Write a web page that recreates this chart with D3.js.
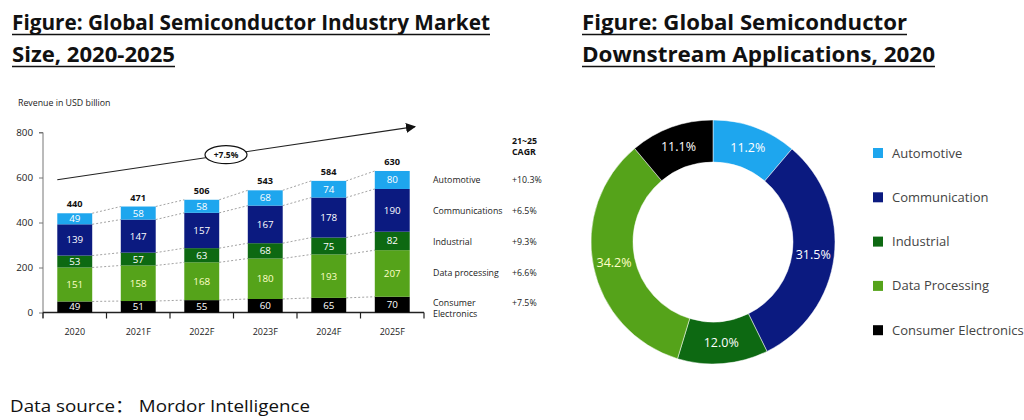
<!DOCTYPE html>
<html><head><meta charset="utf-8">
<script src="https://cdn.jsdelivr.net/npm/d3@7"></script>
<style>
html,body{margin:0;padding:0;background:#fff;}
svg{display:block;}
</style></head>
<body>
<svg id="c" width="1024" height="420"></svg>
<script>
// ---- Data ----
const years = ["2020","2021F","2022F","2023F","2024F","2025F"];
const segments = ["Consumer Electronics","Data processing","Industrial","Communications","Automotive"];
const consumer = [49,51,55,60,65,70];
const dataProc = [151,158,168,180,193,207];
const industrial = [53,57,63,68,75,82];
const communications = [139,147,157,167,178,190];
const automotive = [49,58,58,68,74,80];
const totals = [440,471,506,543,584,630];
const cagrLabels = ["Automotive","Communications","Industrial","Data processing","Consumer|Electronics"];
const cagrValues = ["+10.3%","+6.5%","+9.3%","+6.6%","+7.5%"];
const yTicks = [0,200,400,600,800];
const overallCagr = "+7.5%";

const pieCats = ["Automotive","Communication","Industrial","Data Processing","Consumer Electronics"];
const pieValues = [11.2,31.5,12.0,34.2,11.1];

const colors = {
  "Automotive":"#1ea6ee","Communications":"#0b1a80","Communication":"#0b1a80",
  "Industrial":"#0d6912","Data processing":"#55a31a","Data Processing":"#55a31a",
  "Consumer Electronics":"#000000"
};
const labelColors = {"Data processing":"#ffffc8","Data Processing":"#ffffc8"};

const svg = d3.select("#c");
const titleFont = "'Open Sans', 'Liberation Sans', Arial, sans-serif";
const smallFont = "'Open Sans', 'DejaVu Sans', sans-serif";

// ---- Titles ----
function title(lines, x, lengths){
  lines.forEach((t,i)=>{
    const y = 30 + i*32;
    svg.append("text").attr("x",x).attr("y",y).text(t)
      .attr("font-family",titleFont).attr("font-weight","bold").attr("font-size",21)
      .attr("fill","#111").attr("textLength",lengths[i]).attr("lengthAdjust","spacingAndGlyphs");
    svg.append("line").attr("x1",x).attr("x2",x+lengths[i]).attr("y1",y+4.5).attr("y2",y+4.5)
      .attr("stroke","#111").attr("stroke-width",1.6);
  });
}
title(["Figure: Global Semiconductor Industry Market","Size, 2020-2025"],12,[478,163]);
title(["Figure: Global Semiconductor","Downstream Applications, 2020"],582,[325,353]);

// ---- Stacked bar chart ----
const x = d3.scaleBand().domain(years).range([43,424]).paddingInner(0.45).paddingOuter(0.225);
const y = d3.scaleLinear().domain([0,800]).range([312.5,132.5]);
const rows = years.map((yr,i)=>({year:yr,
  "Consumer Electronics":consumer[i],"Data processing":dataProc[i],"Industrial":industrial[i],
  "Communications":communications[i],"Automotive":automotive[i]}));
const stack = d3.stack().keys(segments)(rows);

svg.append("text").attr("x",18).attr("y",106).text("Revenue in USD billion")
  .attr("font-family",smallFont).attr("font-size",8.8).attr("fill","#222");

// y axis
const gy = svg.append("g").attr("transform","translate(43,0)")
  .call(d3.axisLeft(y).tickValues(yTicks).tickSize(4).tickPadding(6));
gy.select(".domain").attr("stroke","#777").attr("d","M-4,132.5H0V318");
gy.selectAll(".tick line").attr("stroke","#777");
gy.selectAll("text").attr("font-family",smallFont).attr("font-size",9.8).attr("fill","#222");

// x axis
const gx = svg.append("g").attr("transform","translate(0,312.5)")
  .call(d3.axisBottom(x).tickSize(0).tickPadding(16));
gx.select(".domain").attr("stroke","#222").attr("stroke-width",1.4).attr("d","M43,0H424");
gx.selectAll("text").attr("font-family",smallFont).attr("font-size",9).attr("fill","#222");
const step = x.step();
const bounds = years.map(d=>x(d)-x.paddingInner()*step/2).concat([x(years[years.length-1])+x.bandwidth()+x.paddingInner()*step/2]);
gx.selectAll(".bt").data(bounds).enter().append("line")
  .attr("x1",d=>d).attr("x2",d=>d).attr("y1",0).attr("y2",6).attr("stroke","#222").attr("stroke-width",1.2);

// connectors
const conn = svg.append("g");
stack.forEach(layer=>{
  for(let i=0;i<years.length-1;i++){
    conn.append("line")
      .attr("x1",x(years[i])+x.bandwidth()).attr("y1",y(layer[i][1]))
      .attr("x2",x(years[i+1])).attr("y2",y(layer[i+1][1]))
      .attr("stroke","#999").attr("stroke-width",0.9).attr("stroke-dasharray","2,2");
  }
});

// bars
stack.forEach(layer=>{
  const g = svg.append("g");
  g.selectAll("rect").data(layer).enter().append("rect")
    .attr("x",(d,i)=>x(years[i])).attr("width",x.bandwidth())
    .attr("y",d=>y(d[1])).attr("height",d=>y(d[0])-y(d[1]))
    .attr("fill",colors[layer.key]);
  g.selectAll("text").data(layer).enter().append("text")
    .attr("x",(d,i)=>x(years[i])+x.bandwidth()/2).attr("y",d=>(y(d[0])+y(d[1]))/2+3.5)
    .attr("text-anchor","middle").text(d=>d[1]-d[0])
    .attr("font-family",smallFont).attr("font-size",9.8)
    .attr("fill",labelColors[layer.key]||"#fff");
});
// totals
svg.selectAll(".tot").data(totals).enter().append("text")
  .attr("x",(d,i)=>x(years[i])+x.bandwidth()/2)
  .attr("y",(d,i)=>y(stack[stack.length-1][i][1])-6)
  .attr("text-anchor","middle").text(d=>d)
  .attr("font-family",smallFont).attr("font-weight","bold").attr("font-size",9.2).attr("fill","#111");

// growth arrow
const defs = svg.append("defs");
defs.append("marker").attr("id","ah").attr("viewBox","0 0 10 10").attr("refX",9).attr("refY",5)
  .attr("markerWidth",10).attr("markerHeight",10).attr("markerUnits","userSpaceOnUse").attr("orient","auto")
  .append("path").attr("d","M0,0L10,5L0,10Z").attr("fill","#111");
const aStart = {x:x(years[0]), v:590}, aEnd = {x:415, v:826};
svg.append("line").attr("x1",aStart.x).attr("y1",y(aStart.v)).attr("x2",aEnd.x).attr("y2",y(aEnd.v))
  .attr("stroke","#222").attr("stroke-width",1.1).attr("marker-end","url(#ah)");
const ex = 226, ey = y(aStart.v)+(y(aEnd.v)-y(aStart.v))*(ex-aStart.x)/(aEnd.x-aStart.x);
svg.append("ellipse").attr("cx",ex).attr("cy",ey).attr("rx",21).attr("ry",9)
  .attr("fill","#fff").attr("stroke","#111").attr("stroke-width",1.2);
svg.append("text").attr("x",ex).attr("y",ey+3).attr("text-anchor","middle").text(overallCagr)
  .attr("font-family",smallFont).attr("font-weight","bold").attr("font-size",8.5).attr("fill","#111");

// CAGR table
svg.append("text").attr("x",512).attr("y",144).text("21~25")
  .attr("font-family",smallFont).attr("font-weight","bold").attr("font-size",8.8).attr("fill","#111");
svg.append("text").attr("x",512).attr("y",155).text("CAGR")
  .attr("font-family",smallFont).attr("font-weight","bold").attr("font-size",8.8).attr("fill","#111");
const rowY = [183,214,245,276,306];
cagrLabels.forEach((l,i)=>{
  const parts = l.split("|");
  const t = svg.append("text").attr("x",433).attr("y",rowY[i])
    .attr("font-family",smallFont).attr("font-size",8.8).attr("fill","#222");
  parts.forEach((p,j)=>t.append("tspan").attr("x",433).attr("dy",j?10.5:0).text(p));
  svg.append("text").attr("x",512).attr("y",rowY[i]).text(cagrValues[i])
    .attr("font-family",smallFont).attr("font-size",8.8).attr("fill","#222");
});

// ---- Donut ----
const cx = 713, cy = 242, R = 122, r0 = 80;
const pie = d3.pie().sort(null).value(d=>d.v)(pieCats.map((c,i)=>({c, v:pieValues[i]})));
const arc = d3.arc().innerRadius(r0).outerRadius(R);
const labArc = d3.arc().innerRadius((r0+R)/2).outerRadius((r0+R)/2);
const gd = svg.append("g").attr("transform",`translate(${cx},${cy})`);
gd.selectAll("path").data(pie).enter().append("path").attr("d",arc)
  .attr("fill",d=>colors[d.data.c]).attr("stroke","#fff").attr("stroke-width",0.5);
gd.selectAll("text").data(pie).enter().append("text")
  .attr("transform",d=>`translate(${labArc.centroid(d)})`).attr("dy","0.35em")
  .attr("text-anchor","middle").text(d=>d.data.v.toFixed(1)+"%")
  .attr("font-family",smallFont).attr("font-size",12.5)
  .attr("fill",d=>labelColors[d.data.c]||"#fff");

// legend
const lg = svg.append("g");
pieCats.forEach((c,i)=>{
  const ly = 153 + i*44.3;
  lg.append("rect").attr("x",873).attr("y",ly-5).attr("width",10).attr("height",10).attr("fill",colors[c]);
  lg.append("text").attr("x",892).attr("y",ly+4.5).text(c)
    .attr("font-family",smallFont).attr("font-size",13).attr("fill","#444");
});

// data source
svg.append("text").attr("x",10).attr("y",412).text("Data source：  Mordor Intelligence")
  .attr("font-family","'Open Sans', 'Noto Sans CJK SC', sans-serif").attr("font-size",17)
  .attr("fill","#111").attr("textLength",300).attr("lengthAdjust","spacingAndGlyphs");
</script>
</body></html>
